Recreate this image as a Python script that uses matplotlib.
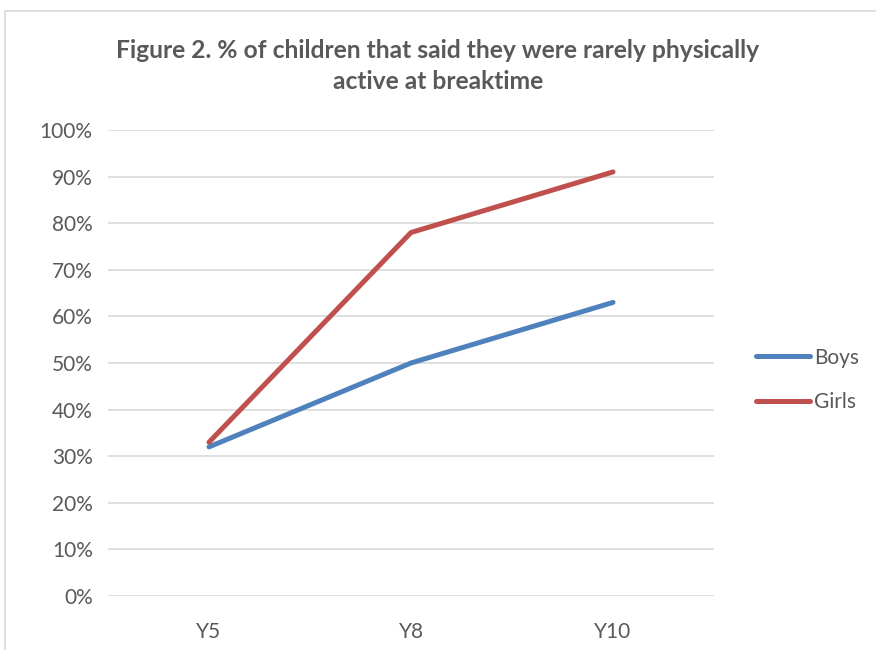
import matplotlib.pyplot as plt
from matplotlib.patches import Rectangle
from matplotlib.ticker import PercentFormatter

years = ['Y5', 'Y8', 'Y10']
boys = [0.32, 0.50, 0.63]
girls = [0.33, 0.78, 0.91]

plt.rcParams['font.family'] = ['Lato', 'DejaVu Sans']
txt = '#595959'

fig = plt.figure(figsize=(8.76, 6.5), dpi=100)
# chart frame, runs off the right and bottom edges
fig.patches.append(Rectangle((5/876, -0.1), 1.2, 1 - 11/650 + 0.1, transform=fig.transFigure,
                             fill=False, edgecolor='#D9D9D9', linewidth=1.2))

ax = fig.add_axes([108/876, 1 - 596/650, 606/876, 466/650])
x = range(len(years))
ax.plot(x, boys, color='#4F81BD', linewidth=3.6, solid_capstyle='round', label='Boys')
ax.plot(x, girls, color='#C0504D', linewidth=3.6, solid_capstyle='round', label='Girls')

ax.set_xlim(-0.5, 2.5)
ax.set_ylim(0, 1)
ax.set_yticks([i / 10 for i in range(11)])
ax.yaxis.set_major_formatter(PercentFormatter(1.0, decimals=0))
ax.set_xticks(list(x))
ax.set_xticklabels(years)
ax.grid(axis='y', color='#D9D9D9', linewidth=1.2)
ax.set_axisbelow(True)
for s in ax.spines.values():
    s.set_visible(False)
ax.tick_params(length=0, labelsize=15, labelcolor=txt)
ax.tick_params(axis='y', pad=11)
ax.tick_params(axis='x', pad=19)

fig.text(0.5, 1 - 66/650, 'Figure 2. % of children that said they were rarely physically\nactive at breaktime',
         ha='center', va='center', fontsize=17.7, fontweight='bold', color=txt, linespacing=1.42)

fig.legend(loc='center left', bbox_to_anchor=(737/876, 1 - 380/650), frameon=False,
           fontsize=15, labelcolor=txt, handlelength=2.6, handletextpad=0.2, labelspacing=1.2)

fig.savefig('out.png', dpi=100)
